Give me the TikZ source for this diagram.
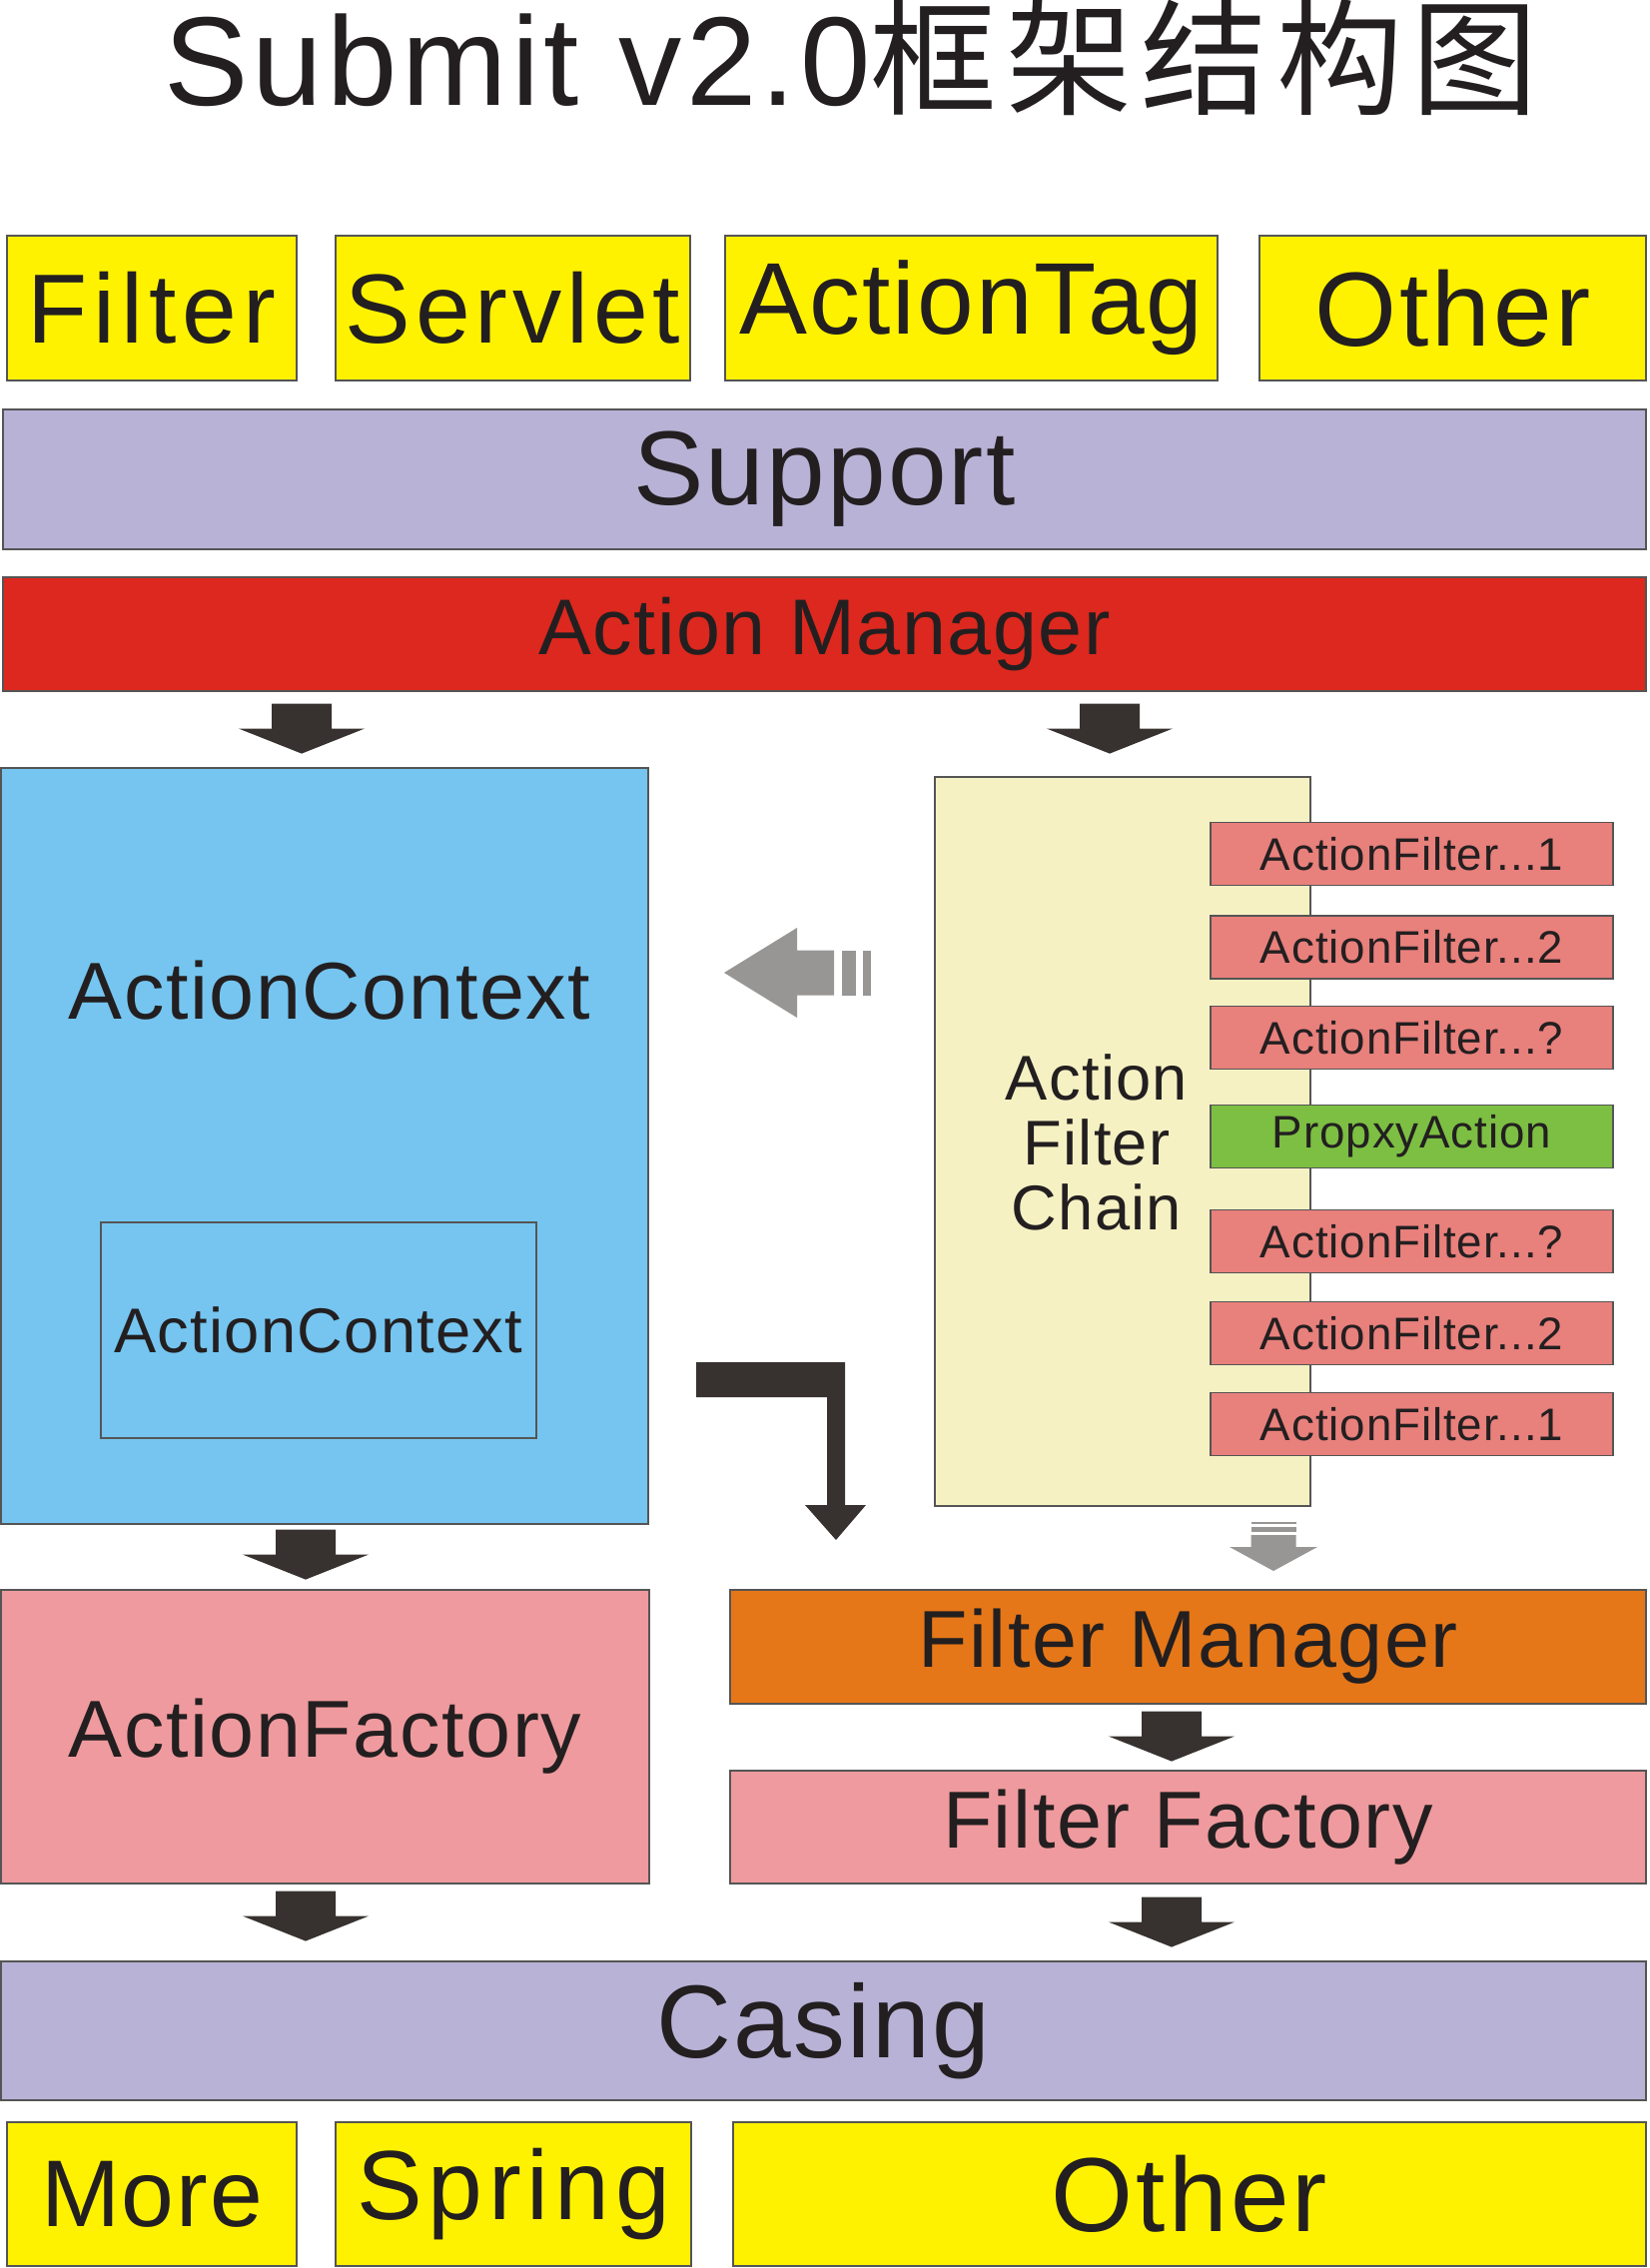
\documentclass[tikz,border=0pt]{standalone}
\usepackage{fontspec}
\setmainfont{Liberation Sans}[LetterSpace=2]
\newfontfamily\cjk{Noto Sans CJK SC}[LetterSpace=7]
\usetikzlibrary{calc}

\definecolor{txt}{HTML}{231F20}
\definecolor{boxline}{HTML}{555555}
\definecolor{ylw}{HTML}{FFF200}
\definecolor{lav}{HTML}{B8B2D6}
\definecolor{mgrred}{HTML}{DC281E}
\definecolor{ctxblue}{HTML}{75C5F0}
\definecolor{chainbg}{HTML}{F5F1C3}
\definecolor{salmon}{HTML}{E8807C}
\definecolor{proxygreen}{HTML}{7CBF43}
\definecolor{factpink}{HTML}{EF9A9E}
\definecolor{fmorange}{HTML}{E57718}
\definecolor{arrdark}{HTML}{37322F}
\definecolor{arrgrey}{HTML}{979695}

\tikzset{
  box/.style={draw=boxline, line width=0.12mm, inner sep=0pt, text=txt},
  afbox/.style={box, fill=salmon, minimum width=40.3mm, minimum height=6.3mm, font=\fontsize{13}{14}\selectfont},
}

% dark block arrow pointing down, top centre at #1
\newcommand{\downblock}[1]{%
  \fill[arrdark, shift={(#1)}] (-30,0) -- (30,0) -- (30,25) -- (63,25) -- (0,50) -- (-63,25) -- (-30,25) -- cycle;}

\begin{document}
\begin{tikzpicture}[x=0.1mm, y=-0.1mm]
\useasboundingbox (0,0) rectangle (1651,2271);

% title
\node[anchor=base, inner sep=0pt, text=txt, font=\fontsize{36}{40}\selectfont] (title) at (852,106) {{\addfontfeatures{LetterSpace=3.5}Submit v2.0}{\cjk 框架结构图}};

% top row
\node[box, fill=ylw, minimum width=29mm, minimum height=14.5mm, font=\fontsize{28}{30}\selectfont\addfontfeatures{LetterSpace=6}] (filter) at (152,308.5) {Filter};
\node[box, fill=ylw, minimum width=35.5mm, minimum height=14.5mm, font=\fontsize{28}{30}\selectfont\addfontfeatures{LetterSpace=5}] (servlet) at (513.5,308.5) {Servlet};
\node[box, fill=ylw, minimum width=49.3mm, minimum height=14.5mm, font=\fontsize{29}{30}\selectfont] (actiontag) at (972.5,308.5) {ActionTag};
\node[box, fill=ylw, minimum width=38.7mm, minimum height=14.5mm, font=\fontsize{30}{30}\selectfont\addfontfeatures{LetterSpace=3}] (othertop) at (1454.5,308.5) {Other};

\node[box, fill=lav, minimum width=164.5mm, minimum height=14mm, font=\fontsize{30}{32}\selectfont] (support) at (825.5,480) {Support};
\node[box, fill=mgrred, minimum width=164.5mm, minimum height=11.4mm, font=\fontsize{22.5}{24}\selectfont] (manager) at (825.5,635) {Action Manager};

% action context
\node[box, fill=ctxblue, minimum width=64.8mm, minimum height=75.7mm] (ctx) at (325,1147.5) {};
\node[text=txt, font=\fontsize{23}{24}\selectfont] (ctxlabel) at (330,992) {ActionContext};
\node[box, minimum width=43.6mm, minimum height=21.6mm, font=\fontsize{18}{20}\selectfont] (ctxinner) at (319,1332) {ActionContext};

% filter chain
\node[box, fill=chainbg, minimum width=37.6mm, minimum height=73mm] (chain) at (1124,1143) {};
\node[text=txt, align=center, font=\fontsize{18}{18.4}\selectfont] (chainlabel) at (1098,1144) {Action\\Filter\\Chain};
\node[afbox] (f1) at (1413.5,855) {ActionFilter...1};
\node[afbox] (f2) at (1413.5,948.5) {ActionFilter...2};
\node[afbox] (f3) at (1413.5,1039) {ActionFilter...?};
\node[afbox, fill=proxygreen] (proxy) at (1413.5,1138) {PropxyAction};
\node[afbox] (f4) at (1413.5,1243) {ActionFilter...?};
\node[afbox] (f5) at (1413.5,1335) {ActionFilter...2};
\node[afbox] (f6) at (1413.5,1426) {ActionFilter...1};

% factories and managers
\node[box, fill=factpink, minimum width=64.9mm, minimum height=29.4mm, font=\fontsize{23}{24}\selectfont] (afactory) at (325.5,1739) {ActionFactory};
\node[box, fill=fmorange, minimum width=91.7mm, minimum height=11.4mm, font=\fontsize{23}{24}\selectfont] (fmanager) at (1189.5,1649) {Filter Manager};
\node[box, fill=factpink, minimum width=91.7mm, minimum height=11.3mm, font=\fontsize{23}{24}\selectfont] (ffactory) at (1189.5,1829.5) {Filter Factory};

\node[box, fill=lav, minimum width=164.7mm, minimum height=13.9mm, font=\fontsize{29.5}{32}\selectfont] (casing) at (824.5,2033.5) {Casing};

% bottom row
\node[box, fill=ylw, minimum width=29mm, minimum height=14.4mm, font=\fontsize{27}{30}\selectfont] (more) at (152,2197) {More};
\node[box, fill=ylw, minimum width=35.6mm, minimum height=14.4mm, font=\fontsize{28}{30}\selectfont\addfontfeatures{LetterSpace=6}] (spring) at (514,2197) {Spring};
\node[box, fill=ylw, minimum width=91.4mm, minimum height=14.4mm, font=\fontsize{30}{30}\selectfont\addfontfeatures{LetterSpace=3}] (otherbot) at (1191,2197) {Other};

% block arrows
\coordinate (mgrtoctx) at ($(manager.south) + (-523.5,12)$);
\coordinate (mgrtochain) at ($(manager.south) + (285.5,12)$);
\coordinate (ctxtofact) at ($(ctx.south) + (-19,5)$);
\coordinate (fmtoff) at ($(fmanager.south) + (-16.5,7)$);
\coordinate (facttocasing) at ($(afactory.south) + (-19.5,7)$);
\coordinate (fftocasing) at ($(ffactory.south) + (-16.5,13)$);
\downblock{mgrtoctx}
\downblock{mgrtochain}
\downblock{ctxtofact}
\downblock{fmtoff}
\downblock{facttocasing}
\downblock{fftocasing}

% grey arrow from chain back to context
\coordinate (backtip) at (725,974);
\fill[arrgrey, shift={(backtip)}] (0,0) -- (73,-45) -- (73,-22.5) -- (110,-22.5) -- (110,22.5) -- (73,22.5) -- (73,45) -- cycle;
\fill[arrgrey, shift={(backtip)}] (118,-22.5) rectangle (132,22.5);
\fill[arrgrey, shift={(backtip)}] (139,-22.5) rectangle (147,22.5);

% bent arrow down to filter manager
\fill[arrdark] (697,1364) -- (846,1364) -- (846,1507) -- (867,1507) -- (837,1542) -- (806,1507) -- (828,1507) -- (828,1399) -- (697,1399) -- cycle;

% small grey arrow below chain
\coordinate (chaintip) at (1275,1573);
\fill[arrgrey, shift={(chaintip)}] (-22.5,-36) -- (22.5,-36) -- (22.5,-24) -- (44,-24) -- (0,0) -- (-44,-24) -- (-22.5,-24) -- cycle;
\fill[arrgrey, shift={(chaintip)}] (-22.5,-44) rectangle (22.5,-39);
\fill[arrgrey, shift={(chaintip)}] (-22.5,-49) rectangle (22.5,-47);

\end{tikzpicture}
\end{document}
